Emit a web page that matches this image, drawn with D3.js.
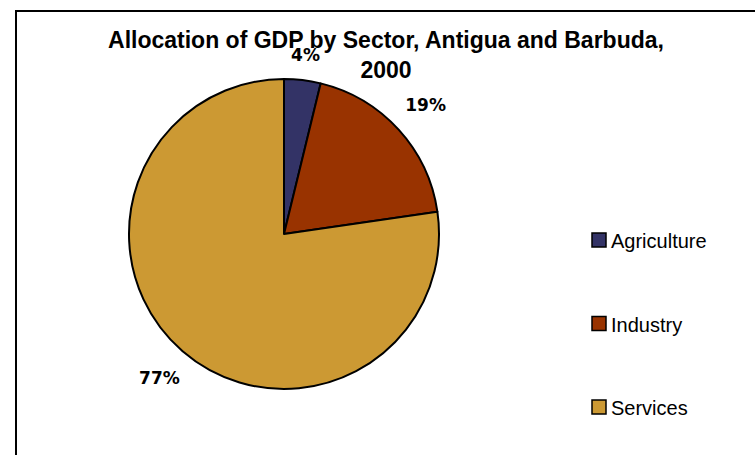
<!DOCTYPE html>
<html>
<head>
<meta charset="utf-8">
<script src="https://cdn.jsdelivr.net/npm/d3@7"></script>
<style>
  body { margin: 0; background: #fff; }
  svg { display: block; }
</style>
</head>
<body>
<svg id="chart" width="755" height="455"></svg>
<script>
/* DATA */
const sectors = ["Agriculture", "Industry", "Services"];
const shares = [3.8, 18.9, 77.3];
const shareLabels = ["4%", "19%", "77%"];
const sectorColors = ["#333366", "#993300", "#CC9933"];
const titleLines = ["Allocation of GDP by Sector, Antigua and Barbuda,", "2000"];

const svg = d3.select("svg#chart");

// chart frame (runs off right and bottom edges like the original)
svg.append("rect")
  .attr("x", 16).attr("y", 11)
  .attr("width", 760).attr("height", 460)
  .attr("fill", "none")
  .attr("stroke", "#000")
  .attr("stroke-width", 2);

const cx = 284, cy = 234, radius = 155;

const color = d3.scaleOrdinal().domain(sectors).range(sectorColors);

const pie = d3.pie().sort(null).value(d => d.value);
const arc = d3.arc().innerRadius(0).outerRadius(radius);

const rows = sectors.map((s, i) => ({ name: s, value: shares[i], label: shareLabels[i] }));
const arcs = pie(rows);

const plot = svg.append("g").attr("transform", "translate(" + cx + "," + cy + ")");

plot.selectAll("path.slice")
  .data(arcs)
  .enter().append("path")
    .attr("class", "slice")
    .attr("d", arc)
    .attr("fill", d => color(d.data.name))
    .attr("stroke", "#000")
    .attr("stroke-width", 2)
    .attr("stroke-linejoin", "round");

/* TITLE */
const title = svg.append("text")
  .attr("x", 386)
  .attr("text-anchor", "middle")
  .style("font-family", "Liberation Sans, Arial, sans-serif")
  .style("font-weight", "bold")
  .style("font-size", "23px")
  .attr("fill", "#000");

title.selectAll("tspan")
  .data(titleLines)
  .enter().append("tspan")
    .attr("x", 386)
    .attr("y", (d, i) => 48 + i * 30)
    .text(d => d);

/* PERCENT LABELS - placed just outside the rim, box aware */
const gap = 16;
const labels = plot.selectAll("text.pct")
  .data(arcs)
  .enter().append("text")
    .attr("class", "pct")
    .attr("text-anchor", "middle")
    .attr("dominant-baseline", "central")
    .style("font-family", "DejaVu Sans, Verdana, sans-serif")
    .style("font-weight", "bold")
    .style("font-size", "17px")
    .attr("fill", "#000")
    .text(d => d.data.label);

labels.each(function(d) {
  const bb = this.getBBox();
  const a = (d.startAngle + d.endAngle) / 2;
  const sx = Math.sin(a), sy = -Math.cos(a);
  const ext = Math.abs(sx) * bb.width / 2 + Math.abs(sy) * bb.height / 2 * 0.8;
  const dist = radius + gap + ext;
  d3.select(this).attr("x", sx * dist).attr("y", sy * dist);
});

/* LEGEND */
const legendY = d3.scalePoint().domain(sectors).range([240, 407]);

const legend = svg.append("g").attr("class", "legend");
const item = legend.selectAll("g")
  .data(sectors)
  .enter().append("g")
    .attr("transform", d => "translate(592," + legendY(d) + ")");

item.append("rect")
  .attr("x", 0).attr("y", -7)
  .attr("width", 14).attr("height", 14)
  .attr("fill", d => color(d))
  .attr("stroke", "#000")
  .attr("stroke-width", 1.5);

item.append("text")
  .attr("x", 19)
  .attr("y", 1)
  .attr("dominant-baseline", "central")
  .style("font-family", "Liberation Sans, Arial, sans-serif")
  .style("font-size", "20px")
  .attr("fill", "#000")
  .text(d => d);
</script>
</body>
</html>
